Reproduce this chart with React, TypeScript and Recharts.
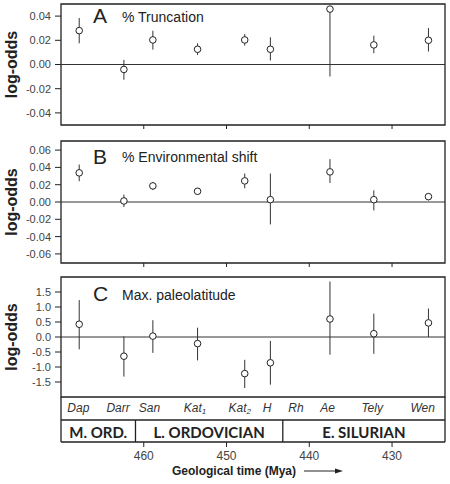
import {
  ScatterChart,
  Scatter,
  XAxis,
  YAxis,
  ErrorBar,
  ReferenceLine,
  ReferenceArea,
} from "recharts";

// time axis (Mya), reversed: older on the left
const X_OLD = 470;
const X_YOUNG = 423.6;
const timeTicks = [460, 450, 440, 430];

// stage midpoints for the nine estimates
const times = [467.8, 462.4, 458.9, 453.5, 447.8, 444.7, 437.5, 432.2, 425.6];

const truncMean = [0.028, -0.0041, 0.0203, 0.0126, 0.0203, 0.0126, 0.0458, 0.0162, 0.02];
const truncLow = [0.0175, -0.0126, 0.0123, 0.0079, 0.0156, 0.0033, -0.0099, 0.0093, 0.0107];
const truncHigh = [0.0384, 0.0038, 0.0279, 0.0175, 0.0252, 0.0225, 0.0466, 0.0238, 0.0301];

const envMean = [0.0337, 0.0012, 0.0186, 0.0124, 0.0244, 0.0027, 0.0348, 0.0027, 0.0062];
const envLow = [0.024, -0.0058, 0.0139, 0.0089, 0.0159, -0.0259, 0.022, -0.0097, 0.0019];
const envHigh = [0.0433, 0.0085, 0.0232, 0.0162, 0.0329, 0.0329, 0.0495, 0.0135, 0.0104];

const latMean = [0.425, -0.64, 0.03, -0.22, -1.22, -0.86, 0.6, 0.11, 0.47];
const latLow = [-0.41, -1.32, -0.53, -0.78, -1.7, -1.59, -0.59, -0.56, 0.0];
const latHigh = [1.23, 0.02, 0.56, 0.31, -0.76, -0.13, 1.85, 0.78, 0.95];

// stage labels row
const stageNames = ["Dap", "Darr", "San", "Kat", "Kat", "H", "Rh", "Ae", "Tely", "Wen"];
const stageSubs = ["", "", "", "1", "2", "", "", "", "", ""];
const stagePos = [467.9, 463.1, 459.3, 453.8, 448.4, 445.1, 441.6, 437.8, 432.4, 426.3];

// epoch row
const epochNames = ["M. ORD.", "L. ORDOVICIAN", "E. SILURIAN"];
const epochBounds = [X_OLD, 461, 443.2, X_YOUNG];

const truncTicks = [-0.04, -0.02, 0, 0.02, 0.04];
const envTicks = [-0.06, -0.04, -0.02, 0, 0.02, 0.04, 0.06];
const latTicks = [-1.5, -1, -0.5, 0, 0.5, 1, 1.5];

const FONT = "'Liberation Sans', Arial, sans-serif";
const INK = "#222";

const build = (mean: number[], lo: number[], hi: number[]) =>
  times.map((t, i) => ({ t, v: mean[i], err: [mean[i] - lo[i], hi[i] - mean[i]] }));

const Dot = (p: any) => (
  <circle cx={p.cx} cy={p.cy} r={3.3} fill="#fff" stroke={INK} strokeWidth={1} />
);
const blank = () => "";

const YTitle = (p: any) => {
  const vb = p.viewBox || { x: 0, y: 0, width: 61, height: 120 };
  const x = vb.x + 16.5;
  const y = vb.y + vb.height / 2;
  return (
    <text
      x={x}
      y={y}
      transform={`rotate(-90 ${x} ${y})`}
      textAnchor="middle"
      fontFamily={FONT}
      fontWeight="bold"
      fontSize={16}
      fill={INK}
    >
      log-odds
    </text>
  );
};

const panelTitle = (letter: string, text: string, dy: number) => (p: any) => {
  const vb = p.viewBox || { x: 61, y: 0 };
  return (
    <g fontFamily={FONT} fill={INK}>
      <text x={vb.x + 32} y={vb.y + dy + 1.5} fontSize={21}>
        {letter}
      </text>
      <text x={vb.x + 61} y={vb.y + dy} fontSize={14}>
        {text}
      </text>
    </g>
  );
};

type PanelProps = {
  data: { t: number; v: number; err: number[] }[];
  ticks: number[];
  yDomain: number[];
  digits: number;
  letter: string;
  title: string;
  titleDy: number;
  height: number;
  top: number;
  bottom: number;
  full?: boolean;
};

const StageTick = (p: any) => {
  const i = p.index;
  return (
    <text
      x={p.x}
      y={p.y + 14}
      textAnchor="middle"
      fontFamily={FONT}
      fontStyle="italic"
      fontSize={12}
      fill="#333"
    >
      {stageNames[i]}
      {stageSubs[i] ? (
        <tspan fontSize={8} dy={2}>
          {stageSubs[i]}
        </tspan>
      ) : null}
    </text>
  );
};

const EpochTick = (p: any) => (
  <text
    x={p.x}
    y={p.y + 16.5}
    textAnchor="middle"
    fontFamily="Lato, 'Open Sans', sans-serif"
    fontWeight="bold"
    fontSize={15}
    fill={INK}
  >
    {epochNames[p.index]}
  </text>
);

const TimeTitle = (p: any) => {
  const vb = p.viewBox || { x: 61, y: 442, width: 384, height: 37 };
  const cx = vb.x + vb.width / 2;
  const y = vb.y + 33;
  return (
    <g>
      <text
        x={cx + 43}
        y={y}
        textAnchor="end"
        fontFamily={FONT}
        fontWeight="bold"
        fontSize={12}
        fill={INK}
      >
        Geological time (Mya)
      </text>
      <line x1={cx + 51} y1={y - 4} x2={cx + 84} y2={y - 4} stroke={INK} strokeWidth={1} />
      <polygon
        points={`${cx + 90},${y - 4} ${cx + 82},${y - 6.5} ${cx + 82},${y - 1.5}`}
        fill={INK}
      />
    </g>
  );
};

const epochCenters = epochNames.map((_, i) => (epochBounds[i] + epochBounds[i + 1]) / 2);
const innerBounds = epochBounds.slice(1, -1);

// bottom axes are stacked in alphabetical order of their ids
function Panel(props: PanelProps) {
  const { data, ticks, yDomain, digits, height, top, bottom, full } = props;
  const axisCommon = {
    type: "number" as const,
    dataKey: "t",
    domain: [X_YOUNG, X_OLD],
    reversed: true,
    allowDataOverflow: true,
    interval: 0 as const,
  };
  const timeId = full ? "e_time" : "time";
  return (
    <ScatterChart
      width={450}
      height={height}
      margin={{ top, right: 5, left: 0, bottom }}
      style={{ display: "block" }}
    >
      <YAxis
        yAxisId="v"
        type="number"
        dataKey="v"
        domain={yDomain}
        ticks={ticks}
        interval={0}
        allowDataOverflow
        width={61}
        axisLine={false}
        tickSize={6}
        tickMargin={4}
        tickLine={{ stroke: INK }}
        tick={{ fontSize: 11, fill: "#444", fontFamily: FONT }}
        tickFormatter={(v: number) => v.toFixed(digits)}
        label={{ content: YTitle }}
      />
      {full && (
        <XAxis
          {...axisCommon}
          xAxisId="a_frame"
          ticks={[X_OLD, X_YOUNG]}
          height={1}
          axisLine={false}
          tickSize={45}
          tickLine={{ stroke: INK, strokeWidth: 1.3 }}
          tick={{ fontSize: 1 }}
          tickFormatter={blank}
        />
      )}
      {full && (
        <XAxis
          {...axisCommon}
          xAxisId="b_stage"
          ticks={stagePos}
          height={22}
          axisLine={false}
          tickLine={false}
          tickSize={0}
          tickMargin={0}
          tick={StageTick}
        />
      )}
      {full && (
        <XAxis
          {...axisCommon}
          xAxisId="c_divider"
          ticks={innerBounds}
          height={1}
          axisLine={{ stroke: INK, strokeWidth: 1.3 }}
          tickSize={22}
          tickLine={{ stroke: INK, strokeWidth: 1.3 }}
          tick={{ fontSize: 1 }}
          tickFormatter={blank}
        />
      )}
      {full && (
        <XAxis
          {...axisCommon}
          xAxisId="d_epoch"
          ticks={epochCenters}
          height={21}
          axisLine={false}
          tickLine={false}
          tickSize={0}
          tickMargin={0}
          tick={EpochTick}
        />
      )}
      {full ? (
        <XAxis
          {...axisCommon}
          xAxisId={timeId}
          ticks={timeTicks}
          height={37}
          axisLine={{ stroke: INK, strokeWidth: 1.3 }}
          tickSize={5}
          tickMargin={4}
          tickLine={{ stroke: INK }}
          tick={{ fontSize: 12, fill: "#444", fontFamily: FONT }}
          label={{ content: TimeTitle }}
        />
      ) : (
        <XAxis
          {...axisCommon}
          xAxisId={timeId}
          ticks={timeTicks}
          height={5}
          axisLine={false}
          tickSize={4}
          tickLine={{ stroke: INK }}
          tick={{ fontSize: 1 }}
          tickFormatter={blank}
        />
      )}
      <ReferenceLine xAxisId={timeId} yAxisId="v" y={0} stroke="#333" strokeWidth={1} />
      <ReferenceArea
        xAxisId={timeId}
        yAxisId="v"
        x1={X_OLD}
        x2={X_YOUNG}
        y1={yDomain[0]}
        y2={yDomain[1]}
        fill="none"
        fillOpacity={0}
        stroke={INK}
        strokeWidth={1.3}
        label={{ content: panelTitle(props.letter, props.title, props.titleDy) }}
      />
      {full && (
        <>
          <Scatter xAxisId="a_frame" yAxisId="v" data={data} shape={() => null} isAnimationActive={false} />
          <Scatter xAxisId="b_stage" yAxisId="v" data={data} shape={() => null} isAnimationActive={false} />
          <Scatter xAxisId="c_divider" yAxisId="v" data={data} shape={() => null} isAnimationActive={false} />
          <Scatter xAxisId="d_epoch" yAxisId="v" data={data} shape={() => null} isAnimationActive={false} />
        </>
      )}
      <Scatter xAxisId={timeId} yAxisId="v" data={data} shape={Dot} isAnimationActive={false}>
        <ErrorBar dataKey="err" direction="y" width={0} stroke="#333" strokeWidth={1} />
      </Scatter>
    </ScatterChart>
  );
}

export default function App() {
  return (
    <div style={{ width: 450, height: 484, background: "#fff" }}>
      <style>{"body{margin:0}"}</style>
      <Panel
        data={build(truncMean, truncLow, truncHigh)}
        ticks={truncTicks}
        yDomain={[-0.05, 0.05]}
        digits={2}
        letter="A"
        title="% Truncation"
        titleDy={17.5}
        height={134}
        top={4}
        bottom={4}
      />
      <Panel
        data={build(envMean, envLow, envHigh)}
        ticks={envTicks}
        yDomain={[-0.0705, 0.0705]}
        digits={2}
        letter="B"
        title="% Environmental shift"
        titleDy={21}
        height={136}
        top={7}
        bottom={2}
      />
      <Panel
        data={build(latMean, latLow, latHigh)}
        ticks={latTicks}
        yDomain={[-2, 2]}
        digits={1}
        letter="C"
        title="Max. paleolatitude"
        titleDy={22.5}
        height={214}
        top={7}
        bottom={5}
        full
      />
    </div>
  );
}
